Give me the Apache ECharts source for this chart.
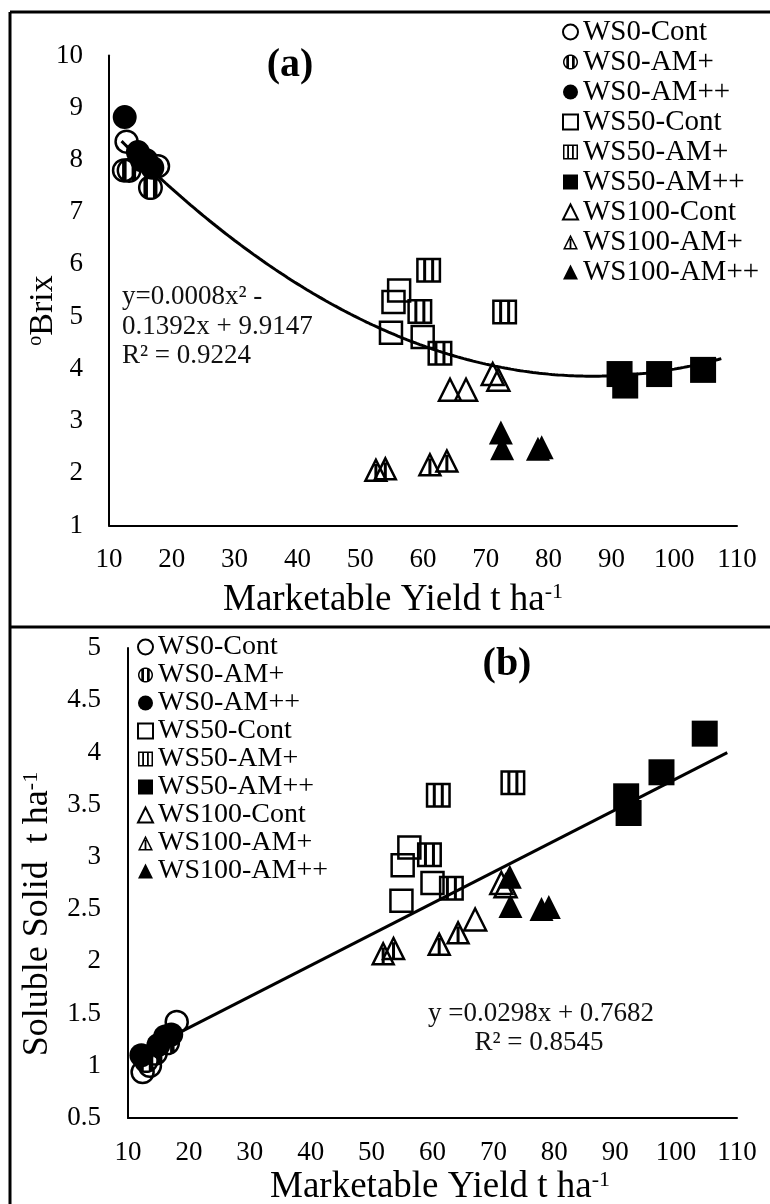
<!DOCTYPE html>
<html><head><meta charset="utf-8">
<script src="https://cdn.jsdelivr.net/npm/echarts@6/dist/echarts.min.js"></script>
<style>html,body{margin:0;padding:0;background:#fff}#c{width:770px;height:1204px}</style>
</head><body><div id="c"></div>
<script>
const FONT = '"Liberation Serif", "Times New Roman", serif';

// ---- categories (series names, legend order) ----
const seriesNames = ['WS0-Cont','WS0-AM+','WS0-AM++','WS50-Cont','WS50-AM+','WS50-AM++','WS100-Cont','WS100-AM+','WS100-AM++'];

// ---- tick settings ----
const xTicks = {min: 10, max: 110, interval: 10};
const yTicksA = {min: 1, max: 10, interval: 1};
const yTicksB = {min: 0.5, max: 5, interval: 0.5};

// ---- panel (a): Marketable yield (t/ha) vs oBrix ----
const brixWS0Cont   = [[12.8, 8.35], [12.4, 7.8], [17.8, 7.88]];
const brixWS0AMp    = [[13.2, 7.8], [16.6, 7.47], [15.3, 8.0]];
const brixWS0AMpp   = [[12.5, 8.82], [14.6, 8.15], [15.9, 8.0], [16.9, 7.85]];
const brixWS50Cont  = [[56.2, 5.5], [55.3, 5.28], [54.9, 4.69], [59.95, 4.61]];
const brixWS50AMp   = [[60.9, 5.89], [59.5, 5.1], [62.7, 4.3], [73.0, 5.09]];
const brixWS50AMpp  = [[91.3, 3.9], [92.2, 3.68], [97.6, 3.9], [104.6, 3.98]];
const brixWS100Cont = [[64.3, 3.6], [66.85, 3.6], [71.1, 3.9], [72.0, 3.79]];
const brixWS100AMp  = [[52.5, 2.07], [54.0, 2.1], [61.1, 2.18], [63.8, 2.25]];
const brixWS100AMpp = [[72.4, 2.78], [72.6, 2.48], [78.3, 2.47], [78.9, 2.5]];

// ---- panel (b): Marketable yield (t/ha) vs soluble solid (t/ha) ----
const ssWS0Cont   = [[12.4, 0.94], [13.6, 1.0], [18.0, 1.42]];
const ssWS0AMp    = [[13.0, 1.05], [14.5, 1.12], [16.5, 1.22]];
const ssWS0AMpp   = [[12.2, 1.1], [15.0, 1.2], [16.1, 1.28], [17.1, 1.3]];
const ssWS50Cont  = [[56.2, 3.09], [55.1, 2.92], [60.0, 2.75], [54.9, 2.58]];
const ssWS50AMp   = [[60.95, 3.59], [73.2, 3.71], [59.5, 3.02], [63.1, 2.70]];
const ssWS50AMpp  = [[104.7, 4.18], [97.6, 3.81], [91.8, 3.58], [92.2, 3.42]];
const ssWS100Cont = [[67.0, 2.40], [71.3, 2.75], [72.0, 2.72]];
const ssWS100AMp  = [[51.9, 2.08], [53.6, 2.13], [61.1, 2.17], [64.2, 2.28]];
const ssWS100AMpp = [[72.7, 2.81], [72.8, 2.53], [77.9, 2.5], [79.1, 2.52]];

// ---- trendlines as printed on the chart ----
const trendA = {a2: 0.0008, a1: -0.1392, a0: 9.9147, xFrom: 12, xTo: 107.5};
const trendB = {slope: 0.0298, intercept: 0.7682, xFrom: 12, xTo: 108.4};

const brixData = [brixWS0Cont, brixWS0AMp, brixWS0AMpp, brixWS50Cont, brixWS50AMp, brixWS50AMpp, brixWS100Cont, brixWS100AMp, brixWS100AMpp];
const ssData   = [ssWS0Cont, ssWS0AMp, ssWS0AMpp, ssWS50Cont, ssWS50AMp, ssWS50AMpp, ssWS100Cont, ssWS100AMp, ssWS100AMpp];

// ---- marker shapes ----
const markerKinds = [['circle','open'],['circle','half'],['circle','solid'],['square','open'],['square','half'],['square','solid'],['triangle','open'],['triangle','half'],['triangle','solid']];
function pts2path(pts){ return 'M' + pts.map(p => p[0].toFixed(2) + ' ' + p[1].toFixed(2)).join(' L') + ' Z'; }
function rectPath(x1, y1, x2, y2){ return pts2path([[x1,y1],[x2,y1],[x2,y2],[x1,y2]]); }
function circlePts(r, rev){ const n = 48, out = []; for (let i = 0; i < n; i++){ const a = 2*Math.PI*i/n*(rev ? -1 : 1); out.push([50 + r*Math.cos(a), 50 + r*Math.sin(a)]); } return out; }
const T = 10;
const halfSymbols = {
  circle: 'path://' + pts2path(circlePts(50, false)) + ' ' + pts2path(circlePts(50 - T, true)) + ' ' + rectPath(22, 10, 40, 90) + ' ' + rectPath(60, 10, 78, 90),
  square: 'path://' + rectPath(0, 0, 100, 100) + ' ' + pts2path([[T,T],[T,100-T],[100-T,100-T],[100-T,T]]) + ' ' + rectPath(28, T, 40, 100-T) + ' ' + rectPath(60, T, 72, 100-T),
  triangle: 'path://' + pts2path([[50,0],[100,100],[0,100]]) + ' ' + pts2path([[50,22.4],[16.2,90],[83.8,90]]) + ' ' + rectPath(44, 28, 56, 90)
};
const builtIn = {circle: 'circle', square: 'rect', triangle: 'triangle'};

function scatterSeries(gi, data, i){
  const kind = markerKinds[i];
  const shape = kind[0], fill = kind[1];
  const s = {type: 'scatter', name: seriesNames[i], xAxisIndex: gi, yAxisIndex: gi, data: data, z: 3, emphasis: {disabled: true}};
  if (fill === 'half') { s.symbol = halfSymbols[shape]; s.symbolSize = 25; s.itemStyle = {color: '#000', borderWidth: 0, opacity: 1}; }
  else if (fill === 'open') { s.symbol = builtIn[shape]; s.symbolSize = 22; s.itemStyle = {color: 'rgba(255,255,255,0)', borderColor: '#000', borderWidth: 2.5, opacity: 1}; }
  else { s.symbol = builtIn[shape]; s.symbolSize = shape === 'square' ? 26 : 24; s.itemStyle = {color: '#000', opacity: 1}; }
  return s;
}

const trendAPts = [];
for (let x = trendA.xFrom; x <= trendA.xTo + 1e-9; x += 0.5) trendAPts.push([x, trendA.a2*x*x + trendA.a1*x + trendA.a0]);
const trendBPts = [trendB.xFrom, trendB.xTo].map(x => [x, trendB.slope*x + trendB.intercept]);

function trendSeries(gi, pts){
  return {type: 'line', xAxisIndex: gi, yAxisIndex: gi, data: pts, symbol: 'none', showSymbol: false, silent: true, z: 2,
          lineStyle: {color: '#000', width: 3}};
}

const axisLineStyle = {show: true, onZero: false, lineStyle: {color: '#000', width: 2}};
function xAxis(gi, nameGap, pad){
  return {type: 'value', gridIndex: gi, min: xTicks.min, max: xTicks.max, interval: xTicks.interval,
    axisLine: axisLineStyle, axisTick: {show: false}, splitLine: {show: false},
    axisLabel: {fontFamily: FONT, fontSize: 27, color: '#000', margin: 21},
    name: '{t|Marketable Yield t ha}{s|-1}', nameLocation: 'middle', nameGap: nameGap,
    nameTextStyle: {padding: pad, rich: {t: {fontFamily: FONT, fontSize: 37, color: '#000'}, s: {fontFamily: FONT, fontSize: 22, color: '#000', verticalAlign: 'top'}}}};
}

const option = {
  animation: false,
  backgroundColor: '#fff',
  grid: [
    {left: 109, top: 55.5, width: 628, height: 470, outerBoundsMode: 'none', containLabel: false},
    {left: 128, top: 648, width: 609, height: 470, outerBoundsMode: 'none', containLabel: false}
  ],
  xAxis: [xAxis(0, 56, [0, 60, 0, 0]), xAxis(1, 51, [0, 0, 0, 15])],
  yAxis: [
    {type: 'value', gridIndex: 0, min: yTicksA.min, max: yTicksA.max, interval: yTicksA.interval,
     axisLine: axisLineStyle, axisTick: {show: false}, splitLine: {show: false},
     axisLabel: {fontFamily: FONT, fontSize: 27, color: '#000', margin: 26},
     name: '{s|o}{t|Brix}', nameLocation: 'middle', nameGap: 49, nameMoveOverlap: false,
     nameTextStyle: {padding: [0, 40, 0, 0], rich: {t: {fontFamily: FONT, fontSize: 34, color: '#000'}, s: {fontFamily: FONT, fontSize: 20, color: '#000', verticalAlign: 'top'}}}},
    {type: 'value', gridIndex: 1, min: yTicksB.min, max: yTicksB.max, interval: yTicksB.interval,
     axisLine: axisLineStyle, axisTick: {show: false}, splitLine: {show: false},
     axisLabel: {fontFamily: FONT, fontSize: 27, color: '#000', margin: 27},
     name: '{t|Soluble Solid  t ha}{s|-1}', nameLocation: 'middle', nameGap: 72,
     nameTextStyle: {padding: [0, 62, 0, 0], rich: {t: {fontFamily: FONT, fontSize: 36, color: '#000'}, s: {fontFamily: FONT, fontSize: 22, color: '#000', verticalAlign: 'top'}}}}
  ],
  legend: [
    {data: seriesNames, orient: 'vertical', left: 562, top: 17, padding: 0, itemWidth: 15, itemHeight: 15, itemGap: 0, selectedMode: false,
     textStyle: {fontFamily: FONT, fontSize: 29, lineHeight: 30, color: '#000'}},
    {data: seriesNames, orient: 'vertical', left: 137, top: 633, padding: 0, itemWidth: 15, itemHeight: 15, itemGap: 0, selectedMode: false,
     textStyle: {fontFamily: FONT, fontSize: 28, lineHeight: 27.5, color: '#000'}}
  ],
  graphic: [
    {type: 'line', shape: {x1: 10, y1: 12, x2: 770, y2: 12}, style: {stroke: '#000', lineWidth: 3}},
    {type: 'line', shape: {x1: 10, y1: 12, x2: 10, y2: 1204}, style: {stroke: '#000', lineWidth: 3}},
    {type: 'line', shape: {x1: 10, y1: 627, x2: 770, y2: 627}, style: {stroke: '#000', lineWidth: 3}},
    {type: 'text', x: 290, y: 66, style: {text: '(a)', font: 'bold 40px ' + FONT, fill: '#000', align: 'center', verticalAlign: 'middle'}},
    {type: 'text', x: 507, y: 665, style: {text: '(b)', font: 'bold 40px ' + FONT, fill: '#000', align: 'center', verticalAlign: 'middle'}},
    {type: 'text', x: 122, y: 297, style: {text: 'y=0.0008x² -', font: '27px ' + FONT, fill: '#111', align: 'left', verticalAlign: 'middle'}},
    {type: 'text', x: 122, y: 327, style: {text: '0.1392x + 9.9147', font: '27px ' + FONT, fill: '#111', align: 'left', verticalAlign: 'middle'}},
    {type: 'text', x: 122, y: 356, style: {text: 'R² = 0.9224', font: '27px ' + FONT, fill: '#111', align: 'left', verticalAlign: 'middle'}},
    {type: 'text', x: 541, y: 1014, style: {text: 'y =0.0298x + 0.7682', font: '27px ' + FONT, fill: '#111', align: 'center', verticalAlign: 'middle'}},
    {type: 'text', x: 539, y: 1043, style: {text: 'R² = 0.8545', font: '27px ' + FONT, fill: '#111', align: 'center', verticalAlign: 'middle'}}
  ],
  series: [trendSeries(0, trendAPts), trendSeries(1, trendBPts)]
    .concat(brixData.map((d, i) => scatterSeries(0, d, i)))
    .concat(ssData.map((d, i) => scatterSeries(1, d, i)))
};

const chart = echarts.init(document.getElementById('c'), null, {renderer: 'canvas'});
chart.setOption(option);
</script>
</body></html>
